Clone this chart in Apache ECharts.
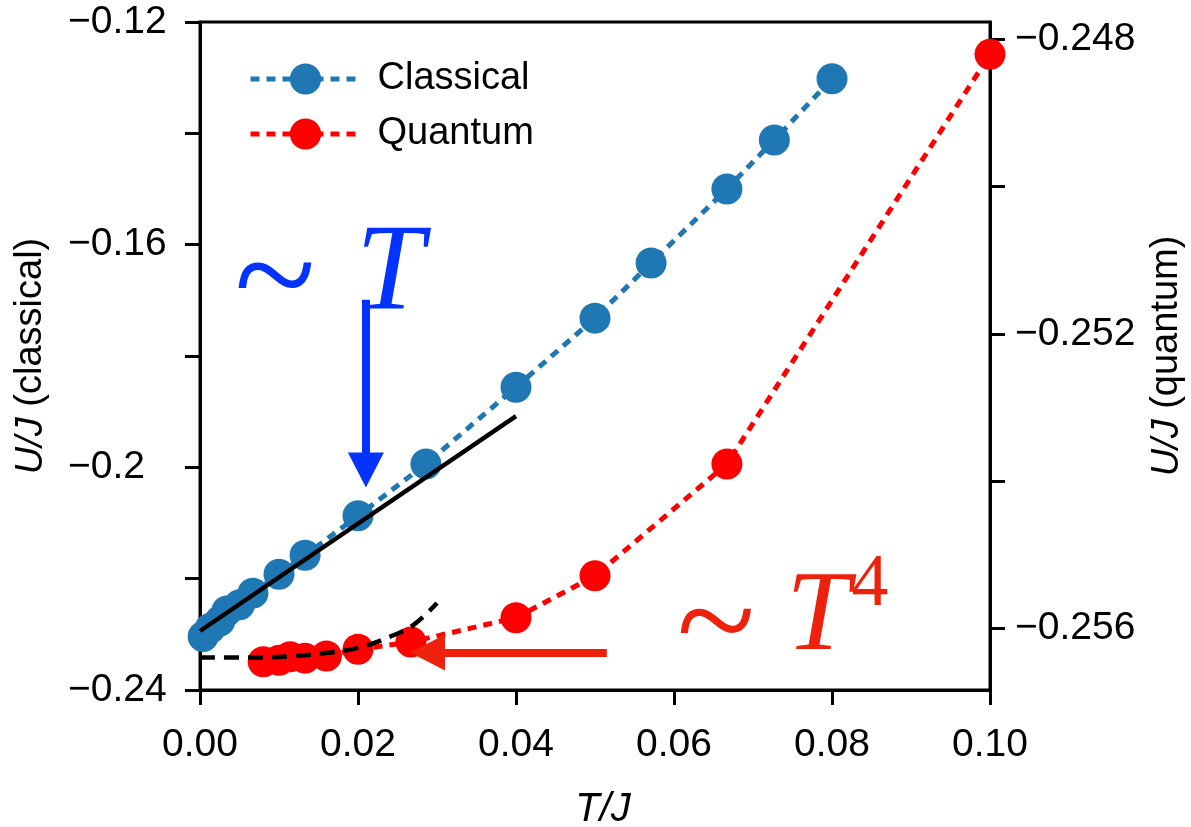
<!DOCTYPE html>
<html><head><meta charset="utf-8">
<script src="https://cdn.jsdelivr.net/npm/echarts@6/dist/echarts.min.js"></script>
<style>html,body{margin:0;padding:0;background:#fff}#c{width:1191px;height:827px}</style>
</head><body><div id="c"></div>
<script>
// ---- data ----
const xTicks = [0, 0.02, 0.04, 0.06, 0.08, 0.10];
const leftLabelTicks = [-0.24, -0.2, -0.16, -0.12];
const rightLabelTicks = [-0.256, -0.252, -0.248];
const rightMinorTicks = [-0.256, -0.254, -0.252, -0.250, -0.248];

const classicalT = [0.0004, 0.0013, 0.0025, 0.0034, 0.005, 0.0067, 0.01, 0.0133, 0.02, 0.0286, 0.04, 0.05, 0.0571, 0.0667, 0.0727, 0.08];
const classicalU = [-0.2304, -0.2289, -0.2276, -0.2258, -0.2247, -0.2226, -0.2192, -0.2158, -0.2087, -0.1994, -0.1856, -0.1732, -0.1633, -0.1500, -0.1412, -0.1302];

const quantumT = [0.008, 0.01, 0.0114, 0.0133, 0.016, 0.02, 0.0267, 0.04, 0.05, 0.0667, 0.1];
const quantumU = [-0.25646, -0.25644, -0.25639, -0.25641, -0.25638, -0.25629, -0.25619, -0.25586, -0.25529, -0.25377, -0.24820];

const linFitT = [0, 0.04];
const linFitU = [-0.2294, -0.1908];

const t4FitT = [0, 0.008, 0.012, 0.016, 0.02, 0.024, 0.027, 0.030];
const t4FitU = [-0.25640, -0.25640, -0.25638, -0.25634, -0.25627, -0.25612, -0.25596, -0.25566];

// arrows (data coordinates, left axis)
const blueArrow = [[0.0210, -0.1699], [0.0210, -0.2005]];
const redArrow = [[0.0515, -0.23326], [0.0288, -0.23326]];

// ---- build ----
const zip = (a, b) => a.map((v, i) => [v, b[i]]);
const minus = s => String(s).replace('-', '\u2212');
const FONT = '"Liberation Sans", Arial, sans-serif';
const SERIF = '"Liberation Serif", "Times New Roman", serif';

const chart = echarts.init(document.getElementById('c'), null, {renderer: 'canvas'});
chart.setOption({
  animation: false,
  backgroundColor: '#fff',
  grid: {left: 200, right: 201, top: 22, bottom: 137, show: true, borderColor: '#000', borderWidth: 3,
         backgroundColor: 'transparent', containLabel: false, outerBoundsMode: 'none'},
  legend: {
    data: ['Classical', 'Quantum'], orient: 'vertical', left: 243, top: 55,
    itemWidth: 110, itemHeight: 39, itemGap: 17,
    lineStyle: {width: 5},
    textStyle: {fontSize: 38, fontFamily: FONT, color: '#000', padding: [0, 0, 0, 12]}
  },
  xAxis: {
    type: 'value', min: 0, max: 0.1, interval: 0.02,
    name: '{i|T/J}', nameLocation: 'middle', nameGap: 100,
    nameTextStyle: {rich: {i: {fontSize: 40, fontStyle: 'italic', fontFamily: FONT, color: '#000', padding: [0, 0, 0, 16]}}},
    axisLine: {lineStyle: {color: '#000', width: 3}},
    axisTick: {inside: false, length: 15, lineStyle: {color: '#000', width: 3}},
    axisLabel: {fontSize: 39, fontFamily: FONT, color: '#000', margin: 36, formatter: v => v.toFixed(2)},
    splitLine: {show: false}
  },
  yAxis: [{
    type: 'value', min: -0.24, max: -0.12, interval: 0.02, position: 'left',
    name: '{i|U/J} (classical)', nameLocation: 'middle', nameRotate: 90, nameGap: 150,
    nameTextStyle: {fontSize: 38, fontFamily: FONT, color: '#000', padding: [0, 0, 0, 0], rich: {i: {fontSize: 38, fontStyle: 'italic', fontFamily: FONT, color: '#000'}}},
    axisLine: {show: true, lineStyle: {color: '#000', width: 3}},
    axisTick: {length: 15, lineStyle: {color: '#000', width: 3}},
    axisLabel: {fontSize: 39, fontFamily: FONT, color: '#000', align: 'left', margin: 132,
      formatter: v => { const r = Math.round(v * 100); return (r % 4 === 0) ? minus(r / 100) : ''; }},
    splitLine: {show: false}
  }, {
    type: 'value', min: -0.256843, max: -0.24776, position: 'right',
    name: '{i|U/J} (quantum)', nameLocation: 'middle', nameRotate: 90, nameGap: 158,
    nameTextStyle: {fontSize: 38, fontFamily: FONT, color: '#000', rich: {i: {fontSize: 38, fontStyle: 'italic', fontFamily: FONT, color: '#000'}}},
    axisLine: {show: true, lineStyle: {color: '#000', width: 3}},
    axisTick: {length: 15, lineStyle: {color: '#000', width: 3}, customValues: rightMinorTicks},
    axisLabel: {fontSize: 39, fontFamily: FONT, color: '#000', margin: 25, customValues: rightLabelTicks,
      formatter: v => minus(v.toFixed(3))},
    splitLine: {show: false}
  }],
  series: [{
    name: 'Classical', type: 'line', yAxisIndex: 0, data: zip(classicalT, classicalU),
    symbol: 'circle', symbolSize: 31, color: '#1f77b4', z: 2,
    lineStyle: {color: '#1f77b4', width: 5, type: [9, 7]}, itemStyle: {color: '#1f77b4'}
  }, {
    name: 'Quantum', type: 'line', yAxisIndex: 1, data: zip(quantumT, quantumU),
    symbol: 'circle', symbolSize: 31, color: '#ff0000', z: 2,
    lineStyle: {color: '#ff0000', width: 5, type: [9, 7]}, itemStyle: {color: '#ff0000'}
  }, {
    name: 'linfit', type: 'line', yAxisIndex: 0, data: zip(linFitT, linFitU),
    symbol: 'none', z: 5, lineStyle: {color: '#000', width: 4.5, type: 'solid'}
  }, {
    name: 't4fit', type: 'line', yAxisIndex: 1, data: zip(t4FitT, t4FitU),
    symbol: 'none', smooth: 0.4, z: 5, lineStyle: {color: '#000', width: 4.5, type: [15, 9]}
  }, {
    name: 'arrows', type: 'line', yAxisIndex: 0, data: [], z: 6,
    markLine: {
      silent: true, animation: false, label: {show: false},
      symbol: ['none', 'triangle'], symbolSize: [36, 35],
      data: [
        [{coord: blueArrow[0], lineStyle: {color: '#0433ff', width: 8, type: 'solid'}, itemStyle: {color: '#0433ff'}},
         {coord: blueArrow[1]}],
        [{coord: redArrow[0], lineStyle: {color: '#ee220c', width: 8, type: 'solid'}, itemStyle: {color: '#ee220c'}},
         {coord: redArrow[1]}]
      ],
      lineStyle: {width: 8, type: 'solid'}
    }
  }],
  graphic: [
    {type: 'text', x: 275, y: 286, z: 10, style: {text: '~', font: '150px ' + SERIF, fill: '#0433ff', align: 'center', verticalAlign: 'middle'}},
    {type: 'text', x: 390, y: 276, z: 10, style: {text: 'T', font: 'italic 122px ' + SERIF, fill: '#0433ff', align: 'center', verticalAlign: 'middle'}},
    {type: 'text', x: 716, y: 630, z: 10, style: {text: '~', font: '145px ' + SERIF, fill: '#ee220c', align: 'center', verticalAlign: 'middle'}},
    {type: 'text', x: 818, y: 619, z: 10, style: {text: 'T', font: 'italic 114px ' + SERIF, fill: '#ee220c', align: 'center', verticalAlign: 'middle'}},
    {type: 'text', x: 870, y: 586, z: 10, style: {text: '4', font: '74px ' + SERIF, fill: '#ee220c', align: 'center', verticalAlign: 'middle'}}
  ]
});
</script></body></html>
